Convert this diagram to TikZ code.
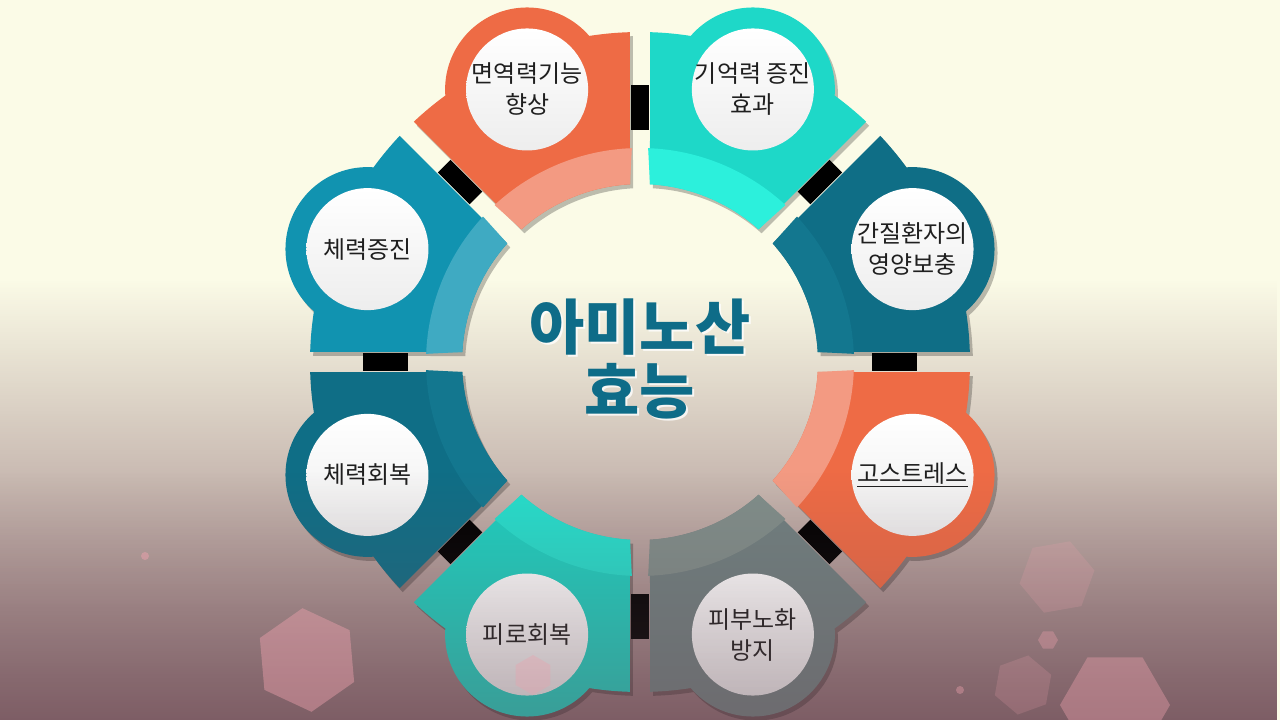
\documentclass[tikz,border=0pt]{standalone}
\usepackage{fontspec}
\setmainfont{Noto Sans CJK KR}
\usetikzlibrary{fadings,shapes.geometric}
\definecolor{Cream}{RGB}{251,251,231}
\definecolor{Veil}{RGB}{124,86,96}
\definecolor{SoftVeil}{RGB}{104,74,84}
\definecolor{Coral}{RGB}{238,107,69}
\definecolor{CoralBand}{RGB}{243,154,130}
\definecolor{Aqua}{RGB}{30,216,200}
\definecolor{AquaBand}{RGB}{44,240,220}
\definecolor{Petrol}{RGB}{15,110,134}
\definecolor{PetrolBand}{RGB}{19,119,143}
\definecolor{Ocean}{RGB}{17,147,176}
\definecolor{OceanBand}{RGB}{63,170,194}
\definecolor{Slate}{RGB}{112,128,128}
\definecolor{SlateBand}{RGB}{128,142,138}
\definecolor{Lagoon}{RGB}{30,208,192}
\definecolor{LagoonBand}{RGB}{38,222,204}
\definecolor{TitleBlue}{RGB}{14,108,136}
\definecolor{Bokeh}{RGB}{236,160,172}
\tikzfading[name=veilfade, top color=transparent!100, middle color=transparent!72, bottom color=transparent!12]
\tikzfading[name=softfade, top color=transparent!100, bottom color=transparent!62]

\begin{document}
\begin{tikzpicture}[x=1pt,y=1pt,
    seglink/.style={line width=18pt,black},
    bubbletext/.style={align=center,font=\fontsize{24}{31}\selectfont,text=black!88},
    titletext/.style={align=center,font=\fontsize{60}{64}\selectfont\bfseries,text=TitleBlue},
    hexspot/.style={regular polygon,regular polygon sides=6,inner sep=0pt,fill=Bokeh}]
  \useasboundingbox (-640,-358) rectangle (640,362);
  \fill[Cream] (-640,-358) rectangle (640,362);
  % dusk behind the ring
  \fill[Veil,path fading=veilfade] (-640,-358) rectangle (640,82);
  % links in the gaps
  \foreach \k in {0,...,7}{
    \coordinate (l\k a) at (45*\k:232);
    \coordinate (l\k b) at (45*\k:277);
    \draw[seglink] (l\k a) -- (l\k b);
  }
  % ring segments with bubbles
  \foreach \ang/\fc/\bc/\nm/\txt in {22.5/Petrol/PetrolBand/liver/{간질환자의\\영양보충},
      67.5/Aqua/AquaBand/memory/{기억력 증진\\효과},
      112.5/Coral/CoralBand/immune/{면역력기능\\향상},
      157.5/Ocean/OceanBand/stamina/{체력증진},
      202.5/Petrol/PetrolBand/recovery/{체력회복},
      247.5/Lagoon/LagoonBand/fatigue/{피로회복},
      292.5/Slate/SlateBand/skin/{피부노화\\방지},
      337.5/Coral/CoralBand/stress/{\underline{고스트레스}}}{
    \fill[black,opacity=0.25,shift={(3,-4)}] (\ang-20.76:330) arc[start angle=\ang-20.76,end angle=\ang+20.76,radius=330]
      -- (\ang+19.28:178) arc[start angle=\ang+19.28,end angle=\ang-19.28,radius=178] -- cycle
      (\ang:295) circle[radius=82];
    \fill[fill=\fc] (\ang-20.76:330) arc[start angle=\ang-20.76,end angle=\ang+20.76,radius=330]
      -- (\ang+19.28:178) arc[start angle=\ang+19.28,end angle=\ang-19.28,radius=178] -- cycle
      (\ang:295) circle[radius=82];
    \fill[fill=\bc] (\ang-20.32:214) arc[start angle=\ang-20.32,end angle=\ang+20.32,radius=214]
      -- (\ang+19.28:178) arc[start angle=\ang+19.28,end angle=\ang-19.28,radius=178] -- cycle;
    \shade[top color=white,bottom color=gray!14] (\ang:295) circle[radius=61];
    \node[bubbletext] (\nm) at (\ang:295) {\txt};
  }
  % title
  \node[titletext,text=white,opacity=0.8] (titleglow) at (2,1) {아미노산\\효능};
  \node[titletext] (title) at (0,3) {아미노산\\효능};
  % light veil over the lower part
  \fill[SoftVeil,path fading=softfade] (-640,-358) rectangle (640,-110);
  % bokeh
  \foreach \cx/\cy/\r/\rot/\op/\nm in {-333/-298/52/35/0.45/hexa,417/-215/38/10/0.2/hexb,
      408/-278/10/0/0.35/hexc,383/-323/30/20/0.2/hexd,475/-343/55/0/0.4/hexe,-107/-313/20/30/0.35/hexf}{
    \node[hexspot,minimum size=2*\r,rotate=\rot,opacity=\op] (\nm) at (\cx,\cy) {};
  }
  \fill[Bokeh,opacity=0.5] (-495,-194) circle[radius=4];
  \fill[Bokeh,opacity=0.4] (320,-328) circle[radius=4];
\end{tikzpicture}
\end{document}
